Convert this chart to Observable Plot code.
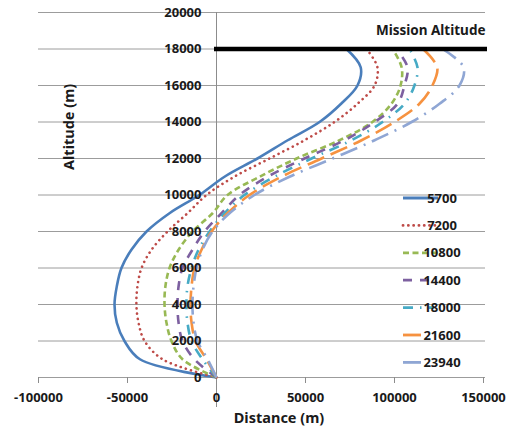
<!DOCTYPE html>
<html>
<head>
<meta charset="utf-8">
<script src="https://cdn.jsdelivr.net/npm/d3@7"></script>
<script src="https://cdn.jsdelivr.net/npm/@observablehq/plot@0.6"></script>
<style>
  html, body { margin: 0; padding: 0; background: #fff; }
  #chart { position: relative; width: 513px; height: 433px; }
</style>
</head>
<body>
<div id="chart"></div>
<script>
// ---- data ----
const altitudes = [0,1000,2000,3000,4000,5000,6000,7000,8000,9000,10000,11000,12000,13000,14000,15000,16000,17000,18000];
const dist5700  = [0,-43000,-51700,-56000,-57300,-56000,-53400,-47800,-39300,-26400,-9600,4500,23000,40000,57900,70000,79200,81000,73000];
const dist7200  = [0,-30300,-40400,-43800,-45000,-44400,-42100,-36500,-27500,-16300,-5600,10000,29800,49400,66300,79200,88800,90400,84300];
const dist10800 = [0,-19100,-25300,-28100,-29200,-28700,-26400,-21300,-13500,-2200,6200,24200,45000,69100,87600,98300,103400,104000,98900];
const dist14400 = [0,-12400,-19100,-21300,-21900,-21300,-19100,-13500,-6700,2800,12900,28700,49400,71900,88800,101700,105600,107300,101100];
const dist18000 = [0,-7900,-14000,-16300,-16900,-16300,-14000,-10100,-3900,4500,15700,32600,53400,75800,93300,105600,111200,112900,108400];
const dist21600 = [0,-5600,-11800,-14000,-14600,-14000,-12400,-8400,-2800,6200,18500,36500,59000,81500,100000,114000,121300,124000,116000];
const dist23940 = [0,-5000,-10700,-12900,-13500,-12900,-11200,-7900,-2200,7300,21300,41000,65200,88800,109600,125300,136500,138800,127000];

const seriesNames = ["5700","7200","10800","14400","18000","21600","23940"];
const seriesDist = [dist5700, dist7200, dist10800, dist14400, dist18000, dist21600, dist23940];

const missionAltitude = 18000;
const missionLabel = "Mission Altitude";
const xTicks = [-100000,-50000,0,50000,100000,150000];
const yTicks = [0,2000,4000,6000,8000,10000,12000,14000,16000,18000,20000];
const xLabel = "Distance (m)";
const yLabel = "Altitude (m)";

// ---- styles ----
const colors = ["#4A7EBB","#BE4B48","#98B954","#7D60A0","#46AAC5","#F69240","#8FA6D4"];
const dashes = [null, "0.1 5.2", "6 3.5", "9 8", "10 7 1.5 7", "18 7", "18 7 2 7"];
const legendLen = [35, 32, 35, 33, 30, 22, 22];
const font = "'Noto Sans', 'Open Sans', 'Liberation Sans', sans-serif";
const ink = "#1a1a1a";

const rows = seriesNames.map((name, i) =>
  altitudes.map((alt, j) => ({series: name, alt, dist: seriesDist[i][j]}))
);

const lineMarks = rows.map((data, i) => Plot.line(data, {
  x: "dist", y: "alt",
  stroke: colors[i],
  strokeWidth: 2.6,
  strokeDasharray: dashes[i] || undefined,
  strokeLinecap: i === 1 ? "round" : "butt",
  curve: "catmull-rom"
}));

const chart = Plot.plot({
  width: 513,
  height: 433,
  marginLeft: 38,
  marginRight: 30,
  marginTop: 12,
  marginBottom: 56,
  x: {domain: [-100000, 150000]},
  y: {domain: [0, 20000], axis: null},
  style: {fontFamily: font, background: "white", color: ink, overflow: "visible"},
  marks: [
    Plot.ruleY(yTicks, {stroke: "#9c9c9c", strokeWidth: 1, insetRight: -2}),
    Plot.ruleX([0], {stroke: "#8c8c8c", strokeWidth: 1, insetBottom: -30}),
    Plot.axisX(xTicks, {
      anchor: "bottom", tickSize: 6, tickPadding: 9, stroke: "#8c8c8c",
      tickFormat: d => String(d), fontSize: 13, fontWeight: "bold", label: null, fill: ink
    }),
    ...lineMarks,
    Plot.ruleY([missionAltitude], {x1: 0, x2: 150000, stroke: "#000", strokeWidth: 4.5, insetLeft: -2, insetRight: -4}),
    Plot.text(yTicks, {x: 0, y: d => d, text: d => String(d), textAnchor: "end", dx: -15,
      fontSize: 13, fontWeight: "bold", fill: ink}),
    Plot.text([missionLabel], {x: 150000, y: missionAltitude, text: d => d, textAnchor: "end",
      dx: 2, dy: -18, fontSize: 13.5, fontWeight: "bold", fill: ink}),
    Plot.text([xLabel], {frameAnchor: "bottom", text: d => d, dx: 18, dy: 45,
      fontSize: 14.5, fontWeight: "bold", fill: ink}),
    Plot.text([yLabel], {frameAnchor: "left", text: d => d, rotate: -90, dx: 31, dy: -25,
      fontSize: 14.5, fontWeight: "bold", fill: ink})
  ]
});

document.getElementById("chart").appendChild(chart);

// ---- legend (custom swatches showing line styles) ----
const svg = d3.select(chart);
const lg = svg.append("g").attr("transform", "translate(403,198)");
seriesNames.forEach((name, i) => {
  const row = lg.append("g").attr("transform", `translate(0,${i * 27.4})`);
  row.append("line")
    .attr("x1", 0).attr("x2", legendLen[i]).attr("y1", 0).attr("y2", 0)
    .attr("stroke", colors[i]).attr("stroke-width", 2.8)
    .attr("stroke-dasharray", dashes[i])
    .attr("stroke-linecap", i === 1 ? "round" : "butt");
  row.append("text")
    .attr("x", 39).attr("y", 0).attr("dy", "0.35em")
    .attr("font-family", font).attr("font-size", 13).attr("font-weight", "bold")
    .attr("fill", ink).text(name);
});
</script>
</body>
</html>
